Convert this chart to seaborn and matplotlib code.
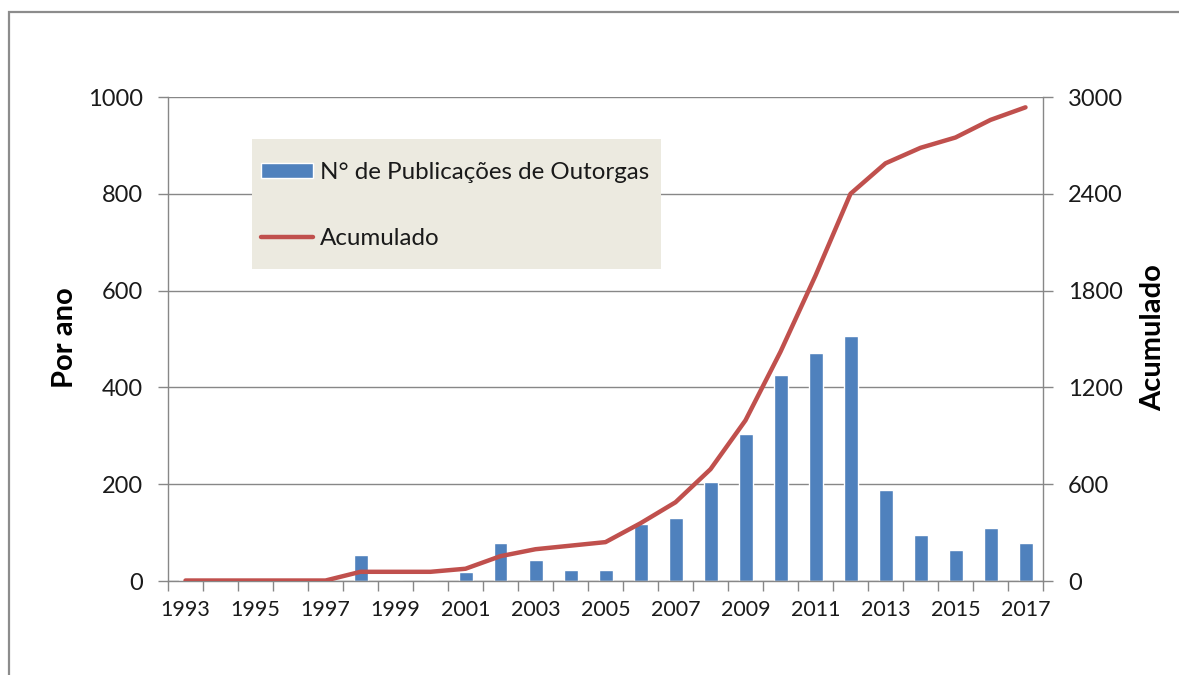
import matplotlib
matplotlib.use("Agg")
import matplotlib.pyplot as plt
from matplotlib.patches import Rectangle
from matplotlib.ticker import FixedLocator, NullFormatter, FixedFormatter
import numpy as np
import pandas as pd
import seaborn as sns

# ---- data ----
years = [1993, 1994, 1995, 1996, 1997, 1998, 1999, 2000, 2001, 2002, 2003, 2004,
         2005, 2006, 2007, 2008, 2009, 2010, 2011, 2012, 2013, 2014, 2015, 2016, 2017]
per_year = [3, 0, 0, 0, 0, 54, 0, 0, 19, 78, 43, 22, 22, 117, 130, 205, 303, 425,
            472, 507, 189, 96, 64, 109, 78]
cumulative = [3, 3, 3, 3, 3, 57, 57, 57, 76, 154, 197, 219, 241, 358, 488, 693, 996,
              1421, 1893, 2400, 2589, 2685, 2749, 2858, 2936]
bar_label = "N° de Publicações de Outorgas"
line_label = "Acumulado"
left_ylabel = "Por ano"
right_ylabel = "Acumulado"
left_ticks = [0, 200, 400, 600, 800, 1000]
right_ticks = [0, 600, 1200, 1800, 2400, 3000]

df = pd.DataFrame({"year": [str(y) for y in years], "per_year": per_year,
                   "cumulative": cumulative})
df["pos"] = np.arange(len(df))

sns.set_theme(style="white")
plt.rcParams["font.family"] = ["Lato", "DejaVu Sans"]

W, H = 1179, 675
fig = plt.figure(figsize=(W / 100, H / 100), dpi=100)
fig.patch.set_facecolor("white")

x0, x1, yt, yb = 168, 1043, 97, 581
ax = fig.add_axes([x0 / W, 1 - yb / H, (x1 - x0) / W, (yb - yt) / H])
ax2 = ax.twinx()

grey = "#878787"
text_c = "#1A1A1A"

sns.barplot(data=df, x="year", y="per_year", ax=ax, color="#4F81BD", saturation=1,
            width=0.4, label=bar_label, order=df["year"].tolist(), zorder=2)
sns.lineplot(data=df, x="pos", y="cumulative", ax=ax2, color="#C0504D", linewidth=3.2,
             label=line_label, solid_capstyle="round", solid_joinstyle="round")

for a in (ax, ax2):
    lg = a.get_legend()
    if lg is not None:
        lg.remove()

ax.set_xlim(-0.5, len(years) - 0.5)
ax2.set_xlim(-0.5, len(years) - 0.5)
ax.set_ylim(0, 1000)
ax2.set_ylim(0, 3000)

# x axis: ticks at category boundaries, labels at every other category
ax.xaxis.set_major_locator(FixedLocator(np.arange(-0.5, len(years), 1.0)))
ax.xaxis.set_major_formatter(NullFormatter())
lab_pos = list(range(0, len(years), 2))
ax.xaxis.set_minor_locator(FixedLocator(lab_pos))
ax.xaxis.set_minor_formatter(FixedFormatter([str(years[i]) for i in lab_pos]))
ax.tick_params(axis="x", which="major", length=7, width=1, color=grey, direction="out",
               bottom=True)
ax.tick_params(axis="x", which="minor", length=0, pad=14, labelsize=15.5,
               labelcolor=text_c, bottom=True)

ax.set_yticks(left_ticks)
ax2.set_yticks(right_ticks)
ax.tick_params(axis="y", length=7, width=1, color=grey, direction="out", pad=11,
               labelsize=17, labelcolor=text_c, left=True)
ax2.tick_params(axis="y", length=7, width=1, color=grey, direction="out", pad=11,
                labelsize=17, labelcolor=text_c, right=True)

ax.grid(axis="y", color=grey, linewidth=1.0)
ax.set_axisbelow(True)
ax.set_xlabel("")
ax2.set_xlabel("")

for a in (ax, ax2):
    a.spines["top"].set_visible(False)
    for s in ("left", "right", "bottom"):
        a.spines[s].set_color(grey)
        a.spines[s].set_linewidth(1.0)
ax.spines["right"].set_visible(False)
ax2.spines["left"].set_visible(False)
ax2.spines["bottom"].set_visible(False)

ax.set_ylabel(left_ylabel, fontsize=21, fontweight="bold", color="black")
ax.yaxis.label.set_verticalalignment("center")
ax.yaxis.set_label_coords((65 - x0) / (x1 - x0), 1 - (338 - yt) / (yb - yt))
ax2.set_ylabel(right_ylabel, fontsize=21, fontweight="bold", color="black")
ax2.yaxis.label.set_verticalalignment("center")
ax2.yaxis.set_label_coords((1153 - x0) / (x1 - x0), 1 - (338 - yt) / (yb - yt))

# legend with a filled background box
lx0, lx1, ly0, ly1 = 252, 661, 139, 269
bg = Rectangle((lx0 / W, 1 - ly1 / H), (lx1 - lx0) / W, (ly1 - ly0) / H,
               transform=fig.transFigure, facecolor="#ECEAE0", edgecolor="none",
               zorder=4, clip_on=False)
ax2.add_patch(bg)
h1, l1 = ax.get_legend_handles_labels()
h2, l2 = ax2.get_legend_handles_labels()
leg = ax2.legend(h1 + h2, l1 + l2, loc="upper left",
                 bbox_to_anchor=((lx0 + 9) / W, 1 - (ly0 + 23) / H),
                 bbox_transform=fig.transFigure, frameon=False, fontsize=17.4,
                 borderpad=0, borderaxespad=0, labelspacing=1.87, handlelength=2.15,
                 handleheight=0.6, handletextpad=0.28, labelcolor=text_c)
leg.set_zorder(6)

# outer chart border (left and top edges visible)
border = Rectangle((9.5 / W, -0.2), 1.5, 1.2 - 12 / H, transform=fig.transFigure,
                   facecolor="none", edgecolor="#8C8C8C", linewidth=1.6, clip_on=False)
fig.add_artist(border)

fig.savefig("out.png", dpi=100)
